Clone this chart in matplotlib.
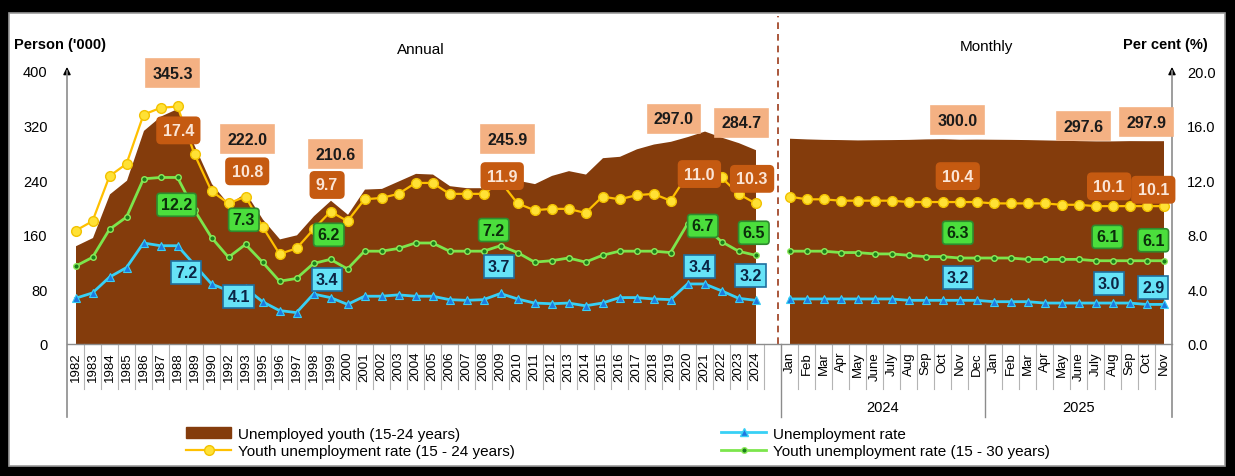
import numpy as np
import matplotlib
matplotlib.use('Agg')
from matplotlib import pyplot as plt
from matplotlib import transforms as mtrans
from matplotlib.patches import Rectangle, Patch
from matplotlib.lines import Line2D

plt.rcParams['font.family'] = ['Liberation Sans', 'DejaVu Sans']

YEARS = ['1982', '1983', '1984', '1985', '1986', '1987', '1988', '1989', '1990',
         '1992', '1993', '1995', '1996', '1997', '1998', '1999', '2000', '2001',
         '2002', '2003', '2004', '2005', '2006', '2007', '2008', '2009', '2010',
         '2011', '2012', '2013', '2014', '2015', '2016', '2017', '2018', '2019',
         '2020', '2021', '2022', '2023', '2024']
MONTHS = ['Jan', 'Feb', 'Mar', 'Apr', 'May', 'June', 'July', 'Aug', 'Sep', 'Oct', 'Nov', 'Dec',
          'Jan', 'Feb', 'Mar', 'Apr', 'May', 'June', 'July', 'Aug', 'Sep', 'Oct', 'Nov']
MONTH_YEARS = ['2024', '2025']

# unemployed youth 15-24 ('000)
youth_annual = [144, 156, 220, 240, 313, 334, 345.3, 290, 235, 205, 222.0, 183, 154, 160,
                188, 210.6, 190, 227, 228, 239, 250, 249, 232, 229, 229, 245.9, 240, 235,
                247, 254, 249, 273, 275, 286, 293, 297.0, 304, 312, 303, 295, 284.7]
youth_monthly = [301.5, 300.5, 299.8, 299.5, 299.0, 299.3, 299.5, 299.8, 300.5, 300.8, 300.0, 300.2,
                 300.0, 299.8, 299.5, 299.0, 298.5, 298.0, 297.6, 297.6, 298.0, 297.9, 297.9]

# rates (%)
rate_1524_annual = [8.3, 9.0, 12.3, 13.2, 16.8, 17.3, 17.4, 13.9, 11.2, 10.3, 10.8, 8.6, 6.6, 7.0,
                    8.4, 9.7, 9.0, 10.6, 10.7, 11.0, 11.8, 11.8, 11.0, 11.0, 11.0, 11.9, 10.3, 9.8,
                    9.9, 9.9, 9.6, 10.8, 10.6, 10.9, 11.0, 10.5, 12.4, 12.6, 12.2, 11.0, 10.3]
rate_1524_monthly = [10.8, 10.6, 10.6, 10.5, 10.5, 10.5, 10.5, 10.4, 10.4, 10.4, 10.4, 10.4,
                     10.3, 10.3, 10.3, 10.3, 10.2, 10.2, 10.1, 10.1, 10.1, 10.1, 10.1]
rate_1530_annual = [5.7, 6.35, 8.4, 9.3, 12.1, 12.2, 12.2, 9.8, 7.8, 6.35, 7.3, 6.0, 4.6, 4.8,
                    5.9, 6.2, 5.5, 6.8, 6.8, 7.0, 7.4, 7.4, 6.8, 6.8, 6.8, 7.2, 6.7, 6.0,
                    6.1, 6.3, 6.0, 6.5, 6.8, 6.8, 6.8, 6.7, 8.8, 8.6, 7.5, 6.8, 6.5]
rate_1530_monthly = [6.8, 6.8, 6.8, 6.7, 6.7, 6.6, 6.6, 6.5, 6.4, 6.4, 6.3, 6.3,
                     6.3, 6.3, 6.2, 6.2, 6.2, 6.2, 6.1, 6.1, 6.1, 6.1, 6.1]
rate_all_annual = [3.35, 3.74, 4.9, 5.6, 7.4, 7.2, 7.2, 5.8, 4.4, 3.9, 4.1, 3.1, 2.45, 2.3,
                   3.66, 3.4, 2.9, 3.5, 3.5, 3.6, 3.5, 3.5, 3.25, 3.2, 3.25, 3.7, 3.3, 3.0,
                   2.95, 3.0, 2.8, 3.0, 3.4, 3.4, 3.3, 3.25, 4.4, 4.4, 3.9, 3.35, 3.2]
rate_all_monthly = [3.3, 3.3, 3.3, 3.3, 3.3, 3.3, 3.3, 3.2, 3.2, 3.2, 3.2, 3.2,
                    3.1, 3.1, 3.1, 3.0, 3.0, 3.0, 3.0, 3.0, 3.0, 2.9, 2.9]

# call-out labels: (text, x index, y on left scale)
LABELS_YOUTH = [('345.3', 5.7, 397), ('222.0', 10.1, 300), ('210.6', 15.3, 278),
                ('245.9', 25.4, 300), ('297.0', 35.2, 330), ('284.7', 39.2, 324),
                ('300.0', 51.9, 328), ('297.6', 59.3, 319), ('297.9', 63.0, 325)]
LABELS_1524 = [('17.4', 6.05, 313), ('10.8', 10.1, 253), ('9.7', 14.8, 233), ('11.9', 25.1, 246),
               ('11.0', 36.7, 249), ('10.3', 39.8, 242), ('10.4', 51.9, 246),
               ('10.1', 60.8, 231), ('10.1', 63.4, 226)]
LABELS_1530 = [('12.2', 5.95, 204), ('7.3', 9.9, 182), ('6.2', 14.9, 160), ('7.2', 24.6, 167),
               ('6.7', 36.9, 173), ('6.5', 39.9, 163), ('6.3', 51.9, 163),
               ('6.1', 60.7, 157), ('6.1', 63.4, 152)]
LABELS_ALL = [('7.2', 6.5, 105), ('4.1', 9.6, 69), ('3.4', 14.8, 94), ('3.7', 24.9, 113),
              ('3.4', 36.7, 113), ('3.2', 39.7, 101), ('3.2', 51.9, 98),
              ('3.0', 60.8, 88), ('2.9', 63.4, 83)]

AREA_C = '#843C0C'
YEL_C = '#FFC000'
GRN_C = '#7CE64C'
BLU_C = '#38D0F5'
AXIS_C = '#8C8C8C'

W, H = 1235, 477
fig = plt.figure(figsize=(W / 100, H / 100), dpi=100, facecolor='black')
fig.patches.append(Rectangle((9 / W, 10 / H), 1216 / W, 453 / H, transform=fig.transFigure,
                             facecolor='white', edgecolor='#9a9a9a', lw=1.2, zorder=-5))

ax = fig.add_axes([67 / W, 132 / H, 1105 / W, 273 / H])
ax.set_facecolor('none')
ax2 = ax.twinx()

xa = np.arange(len(YEARS))
xm = np.arange(len(MONTHS)) + len(YEARS) + 1

ax.fill_between(xa, youth_annual, color=AREA_C, lw=0)
ax.fill_between(xm, youth_monthly, color=AREA_C, lw=0)
ax.set_xlim(-0.5, xm[-1] + 0.5)
ax.set_ylim(0, 400)
ax2.set_ylim(0, 20)

for xs, ys in [(xa, rate_1524_annual), (xm, rate_1524_monthly)]:
  ax2.plot(xs, ys, color=YEL_C, lw=1.6, marker='o', ms=7, mfc='#FFE135', mec='#F2C200', zorder=3)
for xs, ys in [(xa, rate_1530_annual), (xm, rate_1530_monthly)]:
  ax2.plot(xs, ys, color=GRN_C, lw=2, marker='o', ms=4, mfc='#1B7F1B', mec='#8CEB5A', mew=1, zorder=3)
for xs, ys in [(xa, rate_all_annual), (xm, rate_all_monthly)]:
  ax2.plot(xs, ys, color=BLU_C, lw=2, marker='^', ms=5.5, mfc='#1E78E0', mec=BLU_C, mew=0.8, zorder=3)

def callouts(items, fc, ec, tc, style):
  for txt, x, y in items:
    ax2.text(x, y / 20, txt, ha='center', va='center', fontsize=11.5, fontweight='bold', color=tc,
             zorder=5, bbox=dict(boxstyle=style, fc=fc, ec=ec, lw=1.2))

callouts(LABELS_YOUTH, '#F4B183', '#F4B183', '#1a1a1a', 'square,pad=0.4')
callouts(LABELS_1524, '#C55A11', '#C55A11', '#FBE5D6', 'round,pad=0.35,rounding_size=0.25')
callouts(LABELS_1530, '#4BDE3C', '#2E8B2E', '#0B2E0B', 'round,pad=0.25,rounding_size=0.2')
callouts(LABELS_ALL, '#66E3F7', '#1F6F9F', '#0B2545', 'square,pad=0.25')

# axes: ticks, spines
for a in (ax, ax2):
  for s in a.spines.values():
    s.set_visible(False)
ax.set_yticks(np.arange(0, 401, 80))
ax.tick_params(axis='y', length=0, pad=14, labelsize=10.5)
ax2.set_yticks(np.arange(0, 20.1, 4))
ax2.set_yticklabels([f'{v:.1f}' for v in np.arange(0, 20.1, 4)])
ax2.tick_params(axis='y', length=0, pad=11, labelsize=10.5)
ax.set_xticks(np.concatenate([xa, xm]))
ax.set_xticklabels(YEARS + MONTHS, rotation=90, fontsize=9.5)
ax.tick_params(axis='x', length=0, pad=5)

bt = mtrans.blended_transform_factory(ax.transData, ax.transAxes)
ax.plot([-0.5, xm[-1] + 0.5], [0, 0], color=AXIS_C, lw=1, transform=bt, clip_on=False, zorder=4)
for xv in [-0.5, xm[-1] + 0.5]:
  ax.plot([xv, xv], [-0.267, 1.0], color=AXIS_C, lw=1.2, transform=bt, clip_on=False, zorder=4)
  ax.annotate('', xy=(xv, 1.025), xytext=(xv, 0.98), xycoords=bt, textcoords=bt,
              arrowprops=dict(arrowstyle='-|>', color='black', lw=1, mutation_scale=11))
# separators between tick labels
for xv in np.concatenate([xa[:-1] + 0.5, [xa[-1] + 0.5], xm[:-1] + 0.5]):
  ax.plot([xv, xv], [0, -0.165], color='#b4b4b4', lw=0.8, transform=bt, clip_on=False)
for xv in [xm[0] - 0.5, xm[11] + 0.5]:
  ax.plot([xv, xv], [0, -0.267], color=AXIS_C, lw=1, transform=bt, clip_on=False)
ax.text(xm[:12].mean(), -0.23, MONTH_YEARS[0], transform=bt, ha='center', va='center', fontsize=10.5)
ax.text(xm[12:].mean(), -0.23, MONTH_YEARS[1], transform=bt, ha='center', va='center', fontsize=10.5)

# annual / monthly divider
ax.plot([41.3, 41.3], [0, 1.2], color='#9C3B1A', lw=1.2, ls=(0, (4, 3)), transform=bt, clip_on=False)

fig.text(60 / W, 1 - 45 / H, "Person ('000)", ha='center', va='center', fontsize=10.5, fontweight='bold')
fig.text(1165 / W, 1 - 45 / H, 'Per cent (%)', ha='center', va='center', fontsize=10.5, fontweight='bold')
fig.text(421 / W, 1 - 50 / H, 'Annual', ha='center', va='center', fontsize=11)
fig.text(986 / W, 1 - 47 / H, 'Monthly', ha='center', va='center', fontsize=11)

h_area = Patch(facecolor=AREA_C, edgecolor=AREA_C)
h_yel = Line2D([], [], color=YEL_C, lw=1.6, marker='o', ms=7, mfc='#FFE135', mec='#F2C200')
h_blu = Line2D([], [], color=BLU_C, lw=2, marker='^', ms=5.5, mfc='#1E78E0', mec=BLU_C)
h_grn = Line2D([], [], color=GRN_C, lw=2, marker='o', ms=4, mfc='#1B7F1B', mec='#8CEB5A')
leg_kw = dict(frameon=False, fontsize=11, borderpad=0, handlelength=3, handleheight=0.8,
              handletextpad=0.4, labelspacing=0.22, loc='upper left')
fig.legend([h_area, h_yel], ['Unemployed youth (15-24 years)', 'Youth unemployment rate (15 - 24 years)'],
           bbox_to_anchor=(178 / W, 1 - 420 / H), **leg_kw)
fig.legend([h_blu, h_grn], ['Unemployment rate', 'Youth unemployment rate (15 - 30 years)'],
           bbox_to_anchor=(713 / W, 1 - 420 / H), **leg_kw)

fig.savefig('out.png', dpi=100, facecolor='black')
